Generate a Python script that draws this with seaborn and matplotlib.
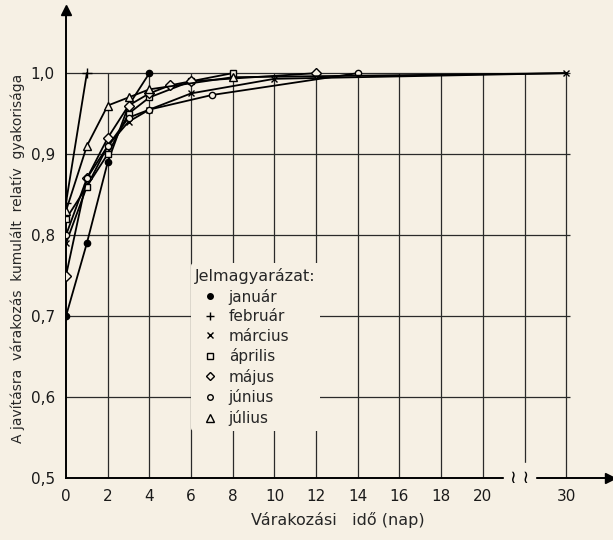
import matplotlib.pyplot as plt
import seaborn as sns
import numpy as np
import pandas as pd
from matplotlib.lines import Line2D

# --- Adatok (leolvasva a grafikonrol) ---
honapok = ['január', 'február', 'március', 'április', 'május', 'június', 'július']
jelek = ['o', '+', 'x', 's', 'D', 'o', '^']
teli = [True, True, True, False, False, False, False]
jel_meret = [4.5, 6.5, 5, 5, 5, 4.5, 6]

nap = {
    'január':  [0, 1, 2, 3, 4],
    'február': [0, 1],
    'március': [0, 1, 2, 3, 4, 6, 10, 30],
    'április': [0, 1, 2, 3, 4, 6, 8],
    'május':   [0, 1, 2, 3, 4, 5, 6, 12],
    'június':  [0, 1, 2, 3, 4, 7, 14],
    'július':  [0, 1, 2, 3, 4, 8, 30],
}
gyak = {
    'január':  [0.70, 0.79, 0.89, 0.96, 1.00],
    'február': [0.84, 1.00],
    'március': [0.79, 0.86, 0.91, 0.94, 0.955, 0.975, 0.993, 1.00],
    'április': [0.82, 0.86, 0.90, 0.95, 0.97, 0.99, 1.00],
    'május':   [0.75, 0.87, 0.92, 0.96, 0.975, 0.985, 0.99, 1.00],
    'június':  [0.80, 0.87, 0.91, 0.945, 0.955, 0.973, 1.00],
    'július':  [0.83, 0.91, 0.96, 0.97, 0.98, 0.995, 1.00],
}

x_tick_pos = [0, 2, 4, 6, 8, 10, 12, 14, 16, 18, 20, 24]
x_tick_lab = ['0', '2', '4', '6', '8', '10', '12', '14', '16', '18', '20', '30']
y_ticks = [0.5, 0.6, 0.7, 0.8, 0.9, 1.0]
y_tick_lab = ['0,5', '0,6', '0,7', '0,8', '0,9', '1,0']


def tengely(x):
    # a 20 utani szakasz meg van szakitva: 30 nap a 24-es helyre kerul
    x = np.asarray(x, dtype=float)
    return np.where(x > 20, 24.0, x)


bg = '#f6f0e4'
sns.set_style('white')
plt.rcParams['font.family'] = ['DejaVu Sans']

fig = plt.figure(figsize=(6.13, 5.40), dpi=100, facecolor=bg)
ax = fig.add_axes([0.1077, 0.1148, 0.8874, 0.8667], facecolor=bg)

# racs
ax.vlines(np.arange(2, 25, 2), 0.5, 1.0, color='#2a2a2a', lw=0.9, zorder=1)
ax.hlines([0.6, 0.7, 0.8, 0.9, 1.0], 0, 24.2, color='#2a2a2a', lw=0.9, zorder=1)

for i, h in enumerate(honapok):
    df = pd.DataFrame({'x': tengely(nap[h]), 'y': gyak[h]})
    # a 30. napi kozos vegpontot csak a marcius jele mutatja
    jelolt = [j for j, d in enumerate(nap[h]) if d < 30 or h == 'március']
    sns.lineplot(data=df, x='x', y='y', ax=ax, color='black', lw=1.3,
                 marker=jelek[i], markersize=jel_meret[i], markevery=jelolt,
                 markerfacecolor='black' if teli[i] else bg,
                 markeredgecolor='black', markeredgewidth=1.0,
                 sort=False, zorder=3)

ax.set_xlim(0, 26.1)
ax.set_ylim(0.5, 1.078)
ax.set_xticks(x_tick_pos)
ax.set_xticklabels(x_tick_lab)
ax.set_yticks(y_ticks)
ax.set_yticklabels(y_tick_lab)
ax.tick_params(length=0, labelsize=11, colors='#1a1a1a', pad=8)
ax.set_xlabel('Várakozási   idő (nap)', fontsize=11.5, labelpad=6)
ax.set_ylabel('A javításra  várakozás  kumulált  relatív  gyakorisága',
              fontsize=10)
ax.yaxis.set_label_coords(-0.075, 0.47)

for s in ['top', 'right']:
    ax.spines[s].set_visible(False)
for s in ['left', 'bottom']:
    ax.spines[s].set_color('black')
    ax.spines[s].set_linewidth(1.4)
ax.plot(1, 0, '>k', ms=7, transform=ax.transAxes, clip_on=False)
ax.plot(0, 1, '^k', ms=7, transform=ax.transAxes, clip_on=False)

# tengelymegszakitas jele
ax.text(21.75, 0.5, '\u2240 \u2240', ha='center', va='center', fontsize=13,
        color='black', backgroundcolor=bg, zorder=4)

# jelmagyarazat
fogok = [Line2D([], [], ls='none', marker=jelek[i], ms=jel_meret[i] - 0.5,
                mfc='black' if teli[i] else bg, mec='black', mew=1.0, label=h)
         for i, h in enumerate(honapok)]
leg = ax.legend(handles=fogok, title='Jelmagyarázat:', loc='upper left',
                bbox_to_anchor=(0.215, 0.475), frameon=True, facecolor=bg,
                edgecolor='none', framealpha=1, fontsize=11, title_fontsize=11.5,
                handlelength=2.0, handletextpad=0.2, labelspacing=0.3,
                borderpad=0.3)
leg._legend_box.align = 'left'
leg.set_zorder(5)

plt.savefig('out.png', dpi=100, facecolor=bg)
